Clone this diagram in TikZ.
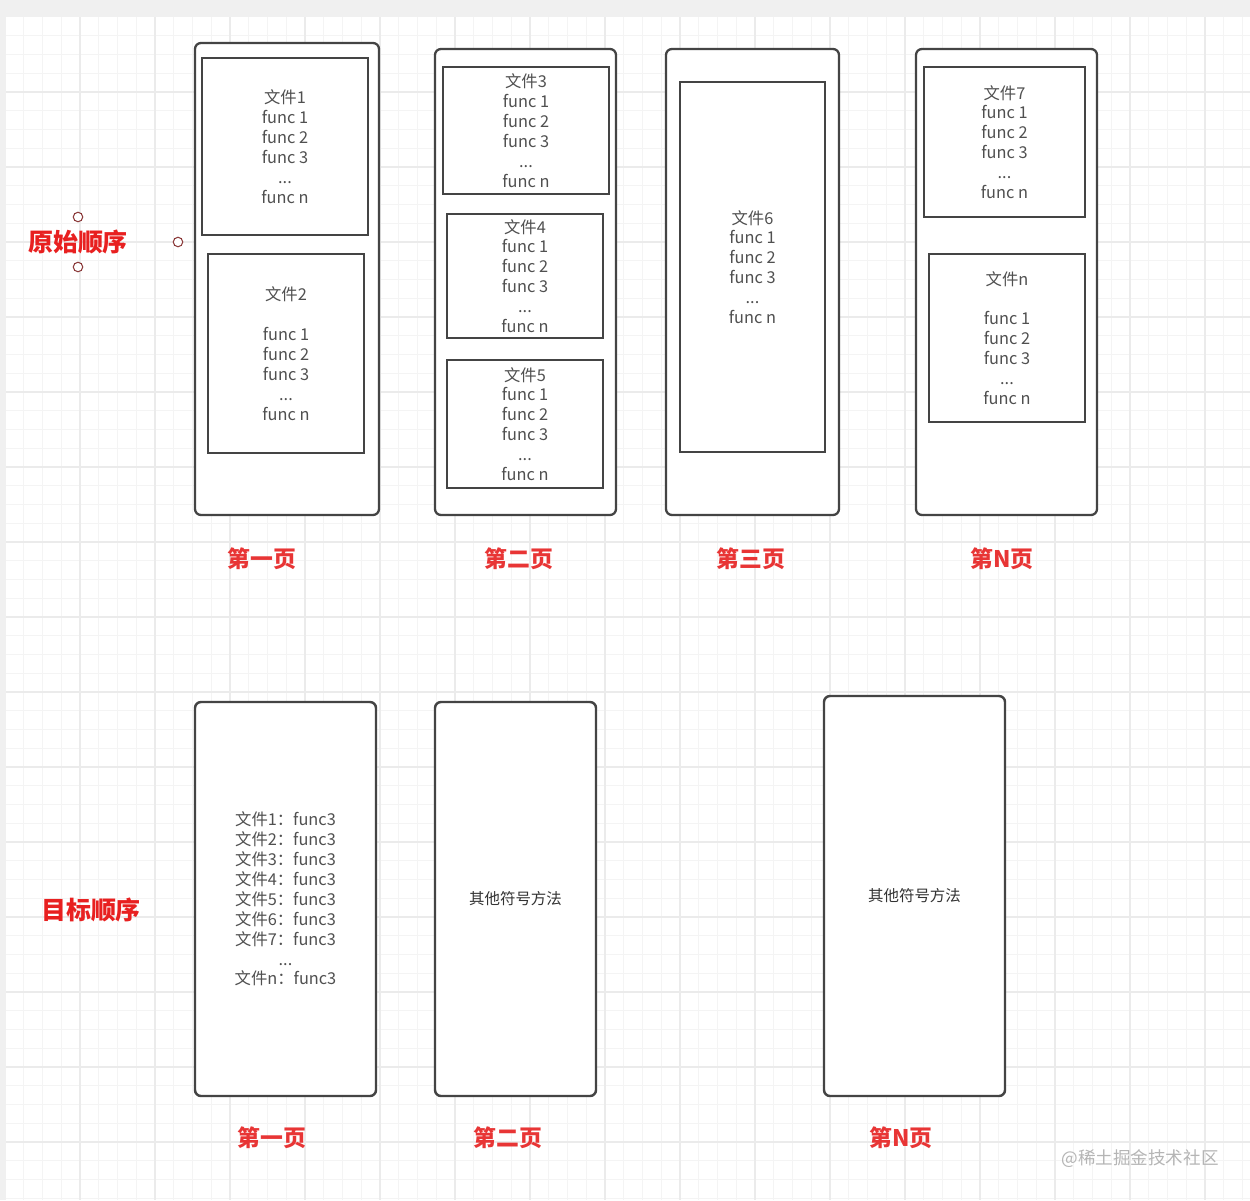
\documentclass[tikz,border=0pt]{standalone}
\usepackage{fontspec}
\setmainfont{Noto Sans CJK SC}
\definecolor{bggray}{HTML}{F0F0F0}
\definecolor{gridminor}{HTML}{F4F4F4}
\definecolor{gridmajor}{HTML}{EBEBEB}
\definecolor{boxline}{HTML}{444444}
\definecolor{boxtext}{HTML}{505050}
\definecolor{lblred}{HTML}{E82020}
\definecolor{pgred}{HTML}{E83535}
\definecolor{handle}{HTML}{8B3A3A}
\definecolor{wm}{HTML}{B5B5B5}
\tikzset{
  sz/.style 2 args={minimum width=#1*0.02cm, minimum height=#2*0.02cm},
  pagebox/.style={draw=boxline, line width=1.3pt, fill=white, rounded corners=0.12cm, inner sep=0pt},
  filebox/.style={draw=boxline, line width=1.4pt, fill=white, inner sep=0pt, align=center,
    text=boxtext, font=\fontsize{9.3pt}{11.34pt}\selectfont},
  sidelbl/.style={text=lblred, font=\fontsize{14.2pt}{16pt}\selectfont\bfseries, inner sep=0pt},
  pagelbl/.style={text=pgred, font=\fontsize{13pt}{14pt}\selectfont\bfseries, inner sep=0pt},
  hdl/.style={circle, draw=handle, fill=white, line width=0.6pt, minimum size=0.19cm, inner sep=0pt},
}
\begin{document}
\begin{tikzpicture}[x=0.02cm, y=-0.02cm]
\useasboundingbox (0,0) rectangle (1250,1200);
% background and grid
\fill[bggray] (0,0) rectangle (1250,1200);
\fill[white] (6,17) rectangle (1250,1200);
\foreach \i in {1,...,66} {
  \draw[gridminor, line width=0.5pt] ({5+18.75*\i},17) -- ({5+18.75*\i},1200);
}
\foreach \j in {1,...,63} {
  \draw[gridminor, line width=0.5pt] (6,{17+18.75*\j}) -- (1250,{17+18.75*\j});
}
\foreach \i in {1,...,16} {
  \draw[gridmajor, line width=0.6pt] ({5+75*\i},17) -- ({5+75*\i},1200);
}
\foreach \j in {1,...,15} {
  \draw[gridmajor, line width=0.6pt] (6,{17+75*\j}) -- (1250,{17+75*\j});
}

% side labels
\node[sidelbl] (orig) at (78,242) {原始顺序};
\node[hdl] (h1) at (78,217) {};
\node[hdl] (h2) at (78,267) {};
\node[hdl] (h3) at (178,242) {};
\node[sidelbl] (target) at (91,910) {目标顺序};

% top row pages
\node[pagebox, sz={184}{472}] (p1) at (287,279) {};
\node[pagebox, sz={181}{466}] (p2) at (525.5,282) {};
\node[pagebox, sz={173}{466}] (p3) at (752.5,282) {};
\node[pagebox, sz={181}{466}] (pN) at (1006.5,282) {};

% file boxes
\node[filebox, sz={166}{177}] (f1) at (285,146.5) {文件1\\func 1\\func 2\\func 3\\...\\func n};
\node[filebox, sz={156}{199}] (f2) at (286,353.5) {文件2\\[11.34pt]func 1\\func 2\\func 3\\...\\func n};
\node[filebox, sz={166}{127}] (f3) at (526,130.5) {文件3\\func 1\\func 2\\func 3\\...\\func n};
\node[filebox, sz={156}{124}] (f4) at (525,276) {文件4\\func 1\\func 2\\func 3\\...\\func n};
\node[filebox, sz={156}{128}] (f5) at (525,424) {文件5\\func 1\\func 2\\func 3\\...\\func n};
\node[filebox, sz={145}{370}] (f6) at (752.5,267) {文件6\\func 1\\func 2\\func 3\\...\\func n};
\node[filebox, sz={161}{150}] (f7) at (1004.5,142) {文件7\\func 1\\func 2\\func 3\\...\\func n};
\node[filebox, sz={156}{168}] (fn) at (1007,338) {文件n\\[11.34pt]func 1\\func 2\\func 3\\...\\func n};

% top page labels
\node[pagelbl] (l1) at (262,559) {第一页};
\node[pagelbl] (l2) at (519,559) {第二页};
\node[pagelbl] (l3) at (751,559) {第三页};
\node[pagelbl] (lN) at (1002,559) {第N页};

% bottom row pages
\node[pagebox, filebox, rounded corners=0.12cm, sz={181}{394}] (q1) at (285.5,899)
  {文件1：func3\\文件2：func3\\文件3：func3\\文件4：func3\\文件5：func3\\文件6：func3\\文件7：func3\\...\\文件n：func3};
\node[pagebox, filebox, rounded corners=0.12cm, text=black!80, font=\fontsize{8.8pt}{11pt}\selectfont, sz={161}{394}] (q2) at (515.5,899) {其他符号方法};
\node[pagebox, filebox, rounded corners=0.12cm, text=black!80, font=\fontsize{8.8pt}{11pt}\selectfont, sz={181}{400}] (qN) at (914.5,896) {其他符号方法};

% bottom page labels
\node[pagelbl] (m1) at (272,1138) {第一页};
\node[pagelbl] (m2) at (508,1138) {第二页};
\node[pagelbl] (mN) at (901,1138) {第N页};

% watermark
\node[text=wm, font=\fontsize{10pt}{12pt}\selectfont, inner sep=0pt] (wmk) at (1140,1159) {@稀土掘金技术社区};
\end{tikzpicture}
\end{document}
